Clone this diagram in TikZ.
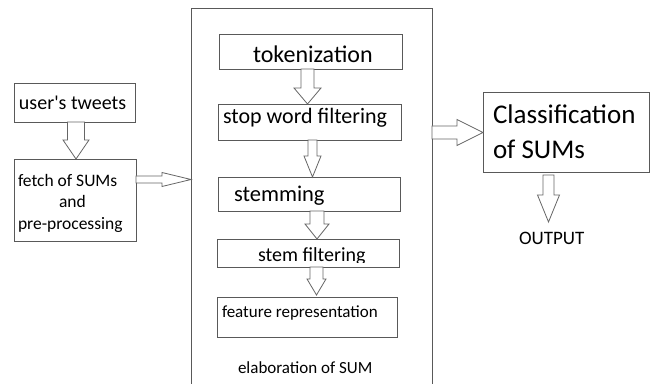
\documentclass[tikz,border=0pt]{standalone}
\usepackage{fontspec}
\setmainfont{Carlito}
\usetikzlibrary{calc}

% vertical block arrow: from anchor, to anchor, x centre, shaft half width, head half width, head length
\newcommand\vblk[6]{%
  \draw[blk] let \p1=(#1), \p2=(#2) in
    (#3pt-#4pt,\y1) -- (#3pt-#4pt,\y2+#6pt) -- (#3pt-#5pt,\y2+#6pt) -- (#3pt,\y2)
    -- (#3pt+#5pt,\y2+#6pt) -- (#3pt+#4pt,\y2+#6pt) -- (#3pt+#4pt,\y1) -- cycle;}
% horizontal block arrow: from anchor, to anchor, y centre, shaft half width, head half width, head length
\newcommand\hblk[6]{%
  \draw[blk] let \p1=(#1), \p2=(#2) in
    (\x1,#3pt-#4pt) -- (\x2-#6pt,#3pt-#4pt) -- (\x2-#6pt,#3pt-#5pt) -- (\x2,#3pt)
    -- (\x2-#6pt,#3pt+#5pt) -- (\x2-#6pt,#3pt+#4pt) -- (\x1,#3pt+#4pt) -- cycle;}

\newcommand\fsz[1]{\fontsize{#1}{#1}\selectfont}

\begin{document}
\begin{tikzpicture}[x=1pt,y=1pt,
  box/.style={draw=black!65,line width=0.8pt,inner sep=0pt,outer sep=0pt},
  lbl/.style={inner sep=0pt,outer sep=0pt,anchor=base west,text=black},
  blk/.style={draw=black!60,line width=0.8pt,fill=white,line join=miter}]
\useasboundingbox (0,0) rectangle (656,383);
\clip (0,0) rectangle (656,383);

% outer frame of the SUM elaboration stage
\node[box,minimum width=241pt,minimum height=390pt] (elab) at (311.5,180) {};

% boxes
\node[box,minimum width=121pt,minimum height=39pt] (tweets) at (74.5,280.5) {};
\node[box,minimum width=122pt,minimum height=82pt] (fetch) at (75,183) {};
\node[box,minimum width=183pt,minimum height=35pt] (tok) at (310.5,331.5) {};
\node[box,minimum width=183pt,minimum height=36pt] (stop) at (309.5,261) {};
\node[box,minimum width=182pt,minimum height=34pt] (stem) at (309,189) {};
\node[box,minimum width=182pt,minimum height=28pt] (stemf) at (308,130) {};
\node[box,minimum width=180pt,minimum height=40pt] (feat) at (307,66) {};
\node[box,minimum width=166pt,minimum height=80pt] (cls) at (566,251) {};

% labels
\node[lbl,font=\fsz{20}] (tweetsT) at (19,273) {user\textquotesingle s tweets};
\node[lbl,font=\fsz{17.5}] (fetchA) at (18,196) {fetch of SUMs};
\node[lbl,font=\fsz{17.5}] (fetchB) at (59,175) {and};
\node[lbl,font=\fsz{17.5}] (fetchC) at (18,153) {pre-processing};
\node[lbl,font=\fsz{24}] (tokT) at (253,320) {tokenization};
\node[lbl,font=\fsz{22}] (stopT) at (223,259) {stop word filtering};
\node[lbl,font=\fsz{22.5}] (stemT) at (234,181) {stemming};
\begin{scope}
  \clip (200,120) rectangle (420,150);
  \node[lbl,font=\fsz{20}] (stemfT) at (258,121) {stem filtering};
\end{scope}
\node[lbl,font=\fsz{17}] (featT) at (222,65) {feature representation};
\node[lbl,font=\fsz{17}] (elabT) at (238,10) {elaboration of SUM};
\node[lbl,font=\fsz{27}] (clsA) at (493,259) {Classification};
\node[lbl,font=\fsz{27}] (clsB) at (493,224) {of SUMs};
\node[lbl,font=\fsz{19}] (outT) at (519,138) {OUTPUT};
\coordinate (outtip) at (548.5,161);

% block arrows
\vblk{tweets.south}{fetch.north}{76}{8.5}{13}{19}
\hblk{fetch.east}{elab.west}{203.5}{3.5}{7}{29}
\vblk{tok.south}{stop.north}{307.5}{6.5}{13.5}{16}
\vblk{stop.south}{stem.north}{312.5}{4.5}{8.5}{21}
\vblk{stem.south}{stemf.north}{317}{7}{12}{15}
\vblk{stemf.south}{[yshift=2pt]feat.north}{316.5}{6.5}{9.5}{16}
\hblk{elab.east}{cls.west}{250.5}{6.5}{13}{26}
\vblk{[yshift=-3pt]cls.south}{outtip}{548.5}{5.5}{11}{27}
\end{tikzpicture}
\end{document}
